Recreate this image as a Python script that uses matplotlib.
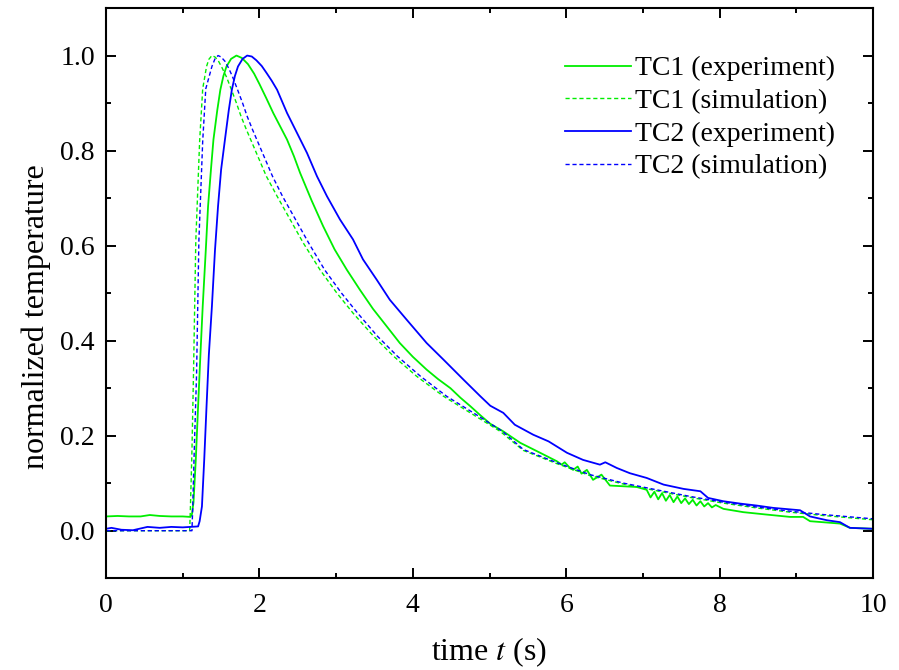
import matplotlib
matplotlib.use('Agg')
import matplotlib.pyplot as plt
from matplotlib.ticker import MultipleLocator

plt.rcParams['font.family'] = ['Liberation Serif', 'DejaVu Serif']
plt.rcParams['mathtext.fontset'] = 'stix'

# TC1 experiment (green solid)
t_tc1_exp = [0.0, 0.15, 0.3, 0.45, 0.57, 0.7, 0.85, 1.0, 1.10, 1.12, 1.14, 1.17, 1.20, 1.23, 1.26, 1.30,
             1.33, 1.37, 1.40, 1.45, 1.49, 1.53, 1.57, 1.63, 1.70, 1.77, 1.85, 1.93, 2.00, 2.09, 2.18,
             2.27, 2.36, 2.45, 2.53, 2.68, 2.83, 2.98, 3.14, 3.31, 3.48, 3.66, 3.83, 4.00, 4.18,
             4.33, 4.49, 4.62, 4.75, 4.88, 5.01, 5.18, 5.40, 5.66, 5.88, 5.94, 5.98, 6.05, 6.09,
             6.15, 6.20, 6.27, 6.35, 6.46, 6.57, 6.92, 7.05, 7.10, 7.15, 7.20, 7.25, 7.30, 7.35,
             7.40, 7.45, 7.50, 7.55, 7.60, 7.65, 7.70, 7.75, 7.80, 7.85, 7.90, 7.95, 8.05, 8.31,
             8.61, 8.92, 9.09, 9.18, 9.57, 9.70, 10.0]
v_tc1_exp = [0.030, 0.031, 0.030, 0.030, 0.033, 0.031, 0.030, 0.030, 0.029, 0.035, 0.060, 0.150, 0.262, 0.370, 0.472, 0.590,
             0.683, 0.765, 0.823, 0.885, 0.928, 0.957, 0.977, 0.993, 1.000, 0.995, 0.982, 0.962, 0.940, 0.910, 0.879,
             0.851, 0.823, 0.788, 0.753, 0.695, 0.641, 0.592, 0.549, 0.507, 0.467, 0.430, 0.395, 0.366, 0.339,
             0.319, 0.300, 0.280, 0.262, 0.243, 0.225, 0.209, 0.185, 0.164, 0.146, 0.139, 0.144, 0.132, 0.128,
             0.135, 0.120, 0.128, 0.107, 0.118, 0.095, 0.092, 0.086, 0.070, 0.082, 0.066, 0.079, 0.063, 0.075,
             0.060, 0.072, 0.058, 0.068, 0.056, 0.065, 0.053, 0.062, 0.051, 0.058, 0.049, 0.054, 0.046, 0.039,
             0.034, 0.029, 0.029, 0.020, 0.015, 0.006, 0.004]

# TC1 simulation (green dashed)
t_tc1_sim = [0.0, 1.09, 1.10, 1.12, 1.14, 1.17, 1.22, 1.26, 1.31, 1.34, 1.38, 1.42, 1.46, 1.51, 1.57,
             1.63, 1.70, 1.76, 1.83, 1.96, 2.09, 2.23, 2.40, 2.57, 2.79, 3.01, 3.22, 3.49, 3.75,
             4.05, 4.40, 4.75, 5.14, 5.44, 5.88, 6.31, 6.75, 7.18, 7.62, 8.05, 8.48, 8.92, 9.35, 10.0]
v_tc1_sim = [0.0, 0.0, 0.05, 0.17, 0.33, 0.61, 0.82, 0.93, 0.977, 0.992, 1.000, 0.997, 0.990, 0.975, 0.955,
             0.930, 0.900, 0.872, 0.844, 0.795, 0.746, 0.704, 0.655, 0.606, 0.549, 0.500, 0.458, 0.409, 0.367,
             0.325, 0.283, 0.248, 0.209, 0.169, 0.141, 0.116, 0.098, 0.084, 0.070, 0.058, 0.048, 0.039, 0.032, 0.023]

# TC2 experiment (blue solid)
t_tc2_exp = [0.0, 0.07, 0.2, 0.35, 0.54, 0.7, 0.85, 1.0, 1.20, 1.22, 1.25, 1.28, 1.31, 1.34, 1.38, 1.42,
             1.46, 1.50, 1.55, 1.60, 1.64, 1.68, 1.72, 1.78, 1.84, 1.90, 1.96, 2.03, 2.09, 2.16, 2.23,
             2.36, 2.49, 2.62, 2.75, 2.88, 3.05, 3.22, 3.35, 3.53, 3.70, 3.92, 4.18, 4.40, 4.66,
             4.88, 5.01, 5.18, 5.33, 5.57, 5.77, 6.01, 6.22, 6.44, 6.51, 6.66, 6.83, 7.05, 7.27,
             7.53, 7.75, 7.85, 8.05, 8.27, 8.48, 8.70, 9.05, 9.18, 9.40, 9.57, 9.70, 10.0]
v_tc2_exp = [0.004, 0.006, 0.002, 0.001, 0.008, 0.006, 0.008, 0.007, 0.009, 0.020, 0.051, 0.150, 0.262, 0.370, 0.472, 0.590,
             0.683, 0.760, 0.823, 0.885, 0.928, 0.957, 0.977, 0.993, 1.000, 0.998, 0.990, 0.978, 0.964, 0.947, 0.928,
             0.879, 0.837, 0.795, 0.746, 0.704, 0.655, 0.613, 0.571, 0.528, 0.486, 0.444, 0.395, 0.360, 0.318,
             0.283, 0.263, 0.248, 0.223, 0.202, 0.188, 0.164, 0.149, 0.139, 0.144, 0.132, 0.121, 0.111, 0.097,
             0.088, 0.083, 0.069, 0.062, 0.057, 0.053, 0.048, 0.043, 0.030, 0.022, 0.018, 0.006, 0.004]

# TC2 simulation (blue dashed)
t_tc2_sim = [0.0, 1.12, 1.13, 1.15, 1.18, 1.21, 1.26, 1.30, 1.38, 1.42, 1.46, 1.50, 1.55, 1.60, 1.65,
             1.71, 1.78, 1.84, 1.91, 2.04, 2.17, 2.30, 2.47, 2.64, 2.85, 3.07, 3.28, 3.54, 3.80,
             4.10, 4.44, 4.79, 5.17, 5.44, 5.88, 6.31, 6.75, 7.18, 7.62, 8.05, 8.48, 8.92, 9.35, 10.0]
v_tc2_sim = [0.0, 0.0, 0.05, 0.17, 0.33, 0.61, 0.82, 0.93, 0.977, 0.993, 1.000, 0.997, 0.988, 0.973, 0.955,
             0.930, 0.900, 0.872, 0.844, 0.795, 0.746, 0.704, 0.655, 0.606, 0.549, 0.500, 0.458, 0.409, 0.367,
             0.325, 0.283, 0.248, 0.209, 0.171, 0.143, 0.118, 0.100, 0.086, 0.072, 0.060, 0.050, 0.041, 0.034, 0.025]

green = '#00ee00'
blue = '#0000ff'

fig = plt.figure(figsize=(8.99, 6.7), dpi=100)
ax = fig.add_axes([0.118, 0.137, 0.853, 0.851])

ax.plot(t_tc1_exp, v_tc1_exp, color=green, lw=1.3, label='TC1 (experiment)')
ax.plot(t_tc1_sim, v_tc1_sim, color=green, lw=1.0, dashes=(3, 2), label='TC1 (simulation)')
ax.plot(t_tc2_exp, v_tc2_exp, color=blue, lw=1.3, label='TC2 (experiment)')
ax.plot(t_tc2_sim, v_tc2_sim, color=blue, lw=1.0, dashes=(3, 2), label='TC2 (simulation)')

ax.set_xlim(0, 10)
ax.set_ylim(-0.1, 1.1)
ax.xaxis.set_major_locator(MultipleLocator(2))
ax.xaxis.set_minor_locator(MultipleLocator(1))
ax.yaxis.set_major_locator(MultipleLocator(0.2))
ax.yaxis.set_minor_locator(MultipleLocator(0.1))
ax.yaxis.set_major_formatter(plt.FormatStrFormatter('%.1f'))
ax.tick_params(which='both', direction='in', top=True, right=True, width=1.4, labelsize=20)
ax.tick_params(which='major', length=7)
ax.tick_params(which='minor', length=3.6)
ax.tick_params(axis='x', pad=11)
ax.tick_params(axis='y', pad=8)
for s in ax.spines.values():
    s.set_linewidth(1.5)

ax.set_xlabel('time $t$ (s)', fontsize=23, labelpad=12)
ax.set_ylabel('normalized temperature', fontsize=23)
ax.yaxis.set_label_coords(-0.072, 0.458)

ax.legend(loc='upper left', bbox_to_anchor=(0.598, 0.916), frameon=False, fontsize=20,
          handlelength=2.4, handletextpad=0.15, labelspacing=0.26, borderpad=0, borderaxespad=0)

fig.savefig('out.png', dpi=100)
